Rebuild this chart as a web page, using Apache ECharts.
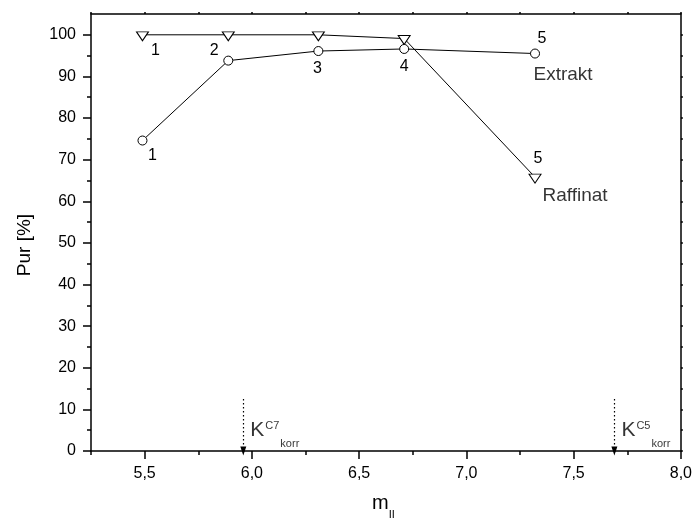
<!DOCTYPE html>
<html>
<head>
<meta charset="utf-8">
<script src="https://cdn.jsdelivr.net/npm/echarts@6/dist/echarts.min.js"></script>
<style>
  html, body { margin: 0; padding: 0; background: #fff; }
  #chart { width: 695px; height: 523px; }
</style>
</head>
<body>
<div id="chart"></div>
<script>
// Purity of raffinate and extract against flow ratio m_II
const mII = [5.49, 5.89, 6.31, 6.71, 7.32];
const raffinat = [100, 100, 100, 99.1, 65.8];
const extrakt = [74.6, 93.8, 96.1, 96.6, 95.5];
const raffinatNo = ['1', '2', '', '', '5'];
const extraktNo = ['1', '', '3', '4', '5'];

// Corrected K values marked with dotted arrows above the x axis
const kPos = [5.96, 7.69];
const kSup = ['C7', 'C5'];
const kArrowTop = 12.5;

// Axis ticks
const xMajor = [5.5, 6.0, 6.5, 7.0, 7.5, 8.0];
const xMinor = [5.25, 5.75, 6.25, 6.75, 7.25, 7.75];
const xAll = [5.25, 5.5, 5.75, 6.0, 6.25, 6.5, 6.75, 7.0, 7.25, 7.5, 7.75, 8.0];
const yMajor = [0, 10, 20, 30, 40, 50, 60, 70, 80, 90, 100];
const yMinor = [5, 15, 25, 35, 45, 55, 65, 75, 85, 95];
const yAll = [0, 5, 10, 15, 20, 25, 30, 35, 40, 45, 50, 55, 60, 65, 70, 75, 80, 85, 90, 95, 100];

const X_MIN = 5.25, X_MAX = 8.0, Y_MIN = 0, Y_MAX = 105;
const FONT = 'Liberation Sans, Arial, sans-serif';
const INK = '#000';

// label offsets (px) for the run numbers next to each point
const raffOffset = [[13, 14], [-14, 14], [0, 0], [0, 0], [3, -20]];
const extrOffset = [[10, 15], [0, 0], [-1, 18], [0, 18], [7, -15]];

function numLabel(text, off) {
  return {
    show: text !== '',
    position: 'inside',
    offset: off,
    align: 'center',
    verticalAlign: 'middle',
    formatter: text,
    color: INK,
    fontFamily: FONT,
    fontSize: 16
  };
}

const line = { color: INK, width: 1.5 };

function xAxisCfg(pos, showLine, ticks, len, labels) {
  return {
    type: 'value', position: pos, min: X_MIN, max: X_MAX,
    axisLine: { show: showLine, onZero: false, lineStyle: line },
    axisTick: { show: true, customValues: ticks, length: len, inside: false, lineStyle: { color: INK, width: 1.5 } },
    axisLabel: labels ? {
      show: true, customValues: labels, margin: 15, color: INK, fontFamily: FONT, fontSize: 16,
      formatter: v => v.toFixed(1).replace('.', ',')
    } : { show: false },
    splitLine: { show: false }
  };
}
function yAxisCfg(pos, showLine, ticks, len, labels) {
  return {
    type: 'value', position: pos, min: Y_MIN, max: Y_MAX,
    axisLine: { show: showLine, onZero: false, lineStyle: line },
    axisTick: { show: true, customValues: ticks, length: len, inside: false, lineStyle: { color: INK, width: 1.5 } },
    axisLabel: labels ? {
      show: true, customValues: labels, margin: 15, color: INK, fontFamily: FONT, fontSize: 16
    } : { show: false },
    splitLine: { show: false }
  };
}

const chart = echarts.init(document.getElementById('chart'), null, { renderer: 'canvas' });

const option = {
  backgroundColor: '#fff',
  animation: false,
  grid: { left: 91, right: 14, top: 14, bottom: 72, containLabel: false },
  xAxis: [
    xAxisCfg('bottom', true, xMajor, 8, xMajor),
    xAxisCfg('bottom', false, xMinor, 4, null),
    xAxisCfg('top', true, xAll, 2, null)
  ],
  yAxis: [
    yAxisCfg('left', true, yMajor, 8, yMajor),
    yAxisCfg('left', false, yMinor, 4, null),
    yAxisCfg('right', true, yAll, 2, null)
  ],
  graphic: [
    // y-axis title
    {
      type: 'text', x: 25, y: 245, rotation: Math.PI / 2,
      style: { text: 'Pur [%]', fill: INK, font: '19px ' + FONT, align: 'center', verticalAlign: 'middle' }
    },
    // x-axis title with subscript
    {
      type: 'text', x: 372, y: 507,
      style: {
        text: '{m|m}{s|II}',
        rich: {
          m: { fontFamily: FONT, fontSize: 20, fill: INK, verticalAlign: 'top', lineHeight: 21 },
          s: { fontFamily: FONT, fontSize: 11, fill: INK, verticalAlign: 'bottom', lineHeight: 27 }
        },
        align: 'left', verticalAlign: 'middle'
      }
    }
  ],
  series: [
    {
      name: 'Raffinat', type: 'line', xAxisIndex: 0, yAxisIndex: 0,
      data: mII.map((x, i) => ({ value: [x, raffinat[i]], label: numLabel(raffinatNo[i], raffOffset[i]) })),
      symbol: 'triangle', symbolSize: [12, 9], symbolRotate: 180, symbolOffset: [0, 1.5],
      showAllSymbol: true,
      lineStyle: { color: INK, width: 1 },
      itemStyle: { color: '#fff', borderColor: INK, borderWidth: 1 },
      z: 3
    },
    {
      name: 'Extrakt', type: 'line', xAxisIndex: 0, yAxisIndex: 0,
      data: mII.map((x, i) => ({ value: [x, extrakt[i]], label: numLabel(extraktNo[i], extrOffset[i]) })),
      symbol: 'circle', symbolSize: 9,
      showAllSymbol: true,
      lineStyle: { color: INK, width: 1 },
      itemStyle: { color: '#fff', borderColor: INK, borderWidth: 1 },
      z: 4
    },
    {
      // curve names next to the last points
      type: 'scatter', xAxisIndex: 0, yAxisIndex: 0, symbolSize: 0, silent: true,
      data: [
        { value: [mII[4], extrakt[4]], name: 'Extrakt', label: { offset: [28, 21] } },
        { value: [mII[4], raffinat[4]], name: 'Raffinat', label: { offset: [40, 19] } }
      ],
      label: {
        show: true, position: 'inside', align: 'center', verticalAlign: 'middle',
        formatter: p => p.name, color: INK, fontFamily: FONT, fontSize: 19
      },
      z: 5
    },
    {
      // dotted arrows marking corrected K values
      type: 'scatter', xAxisIndex: 0, yAxisIndex: 0, symbolSize: 0, silent: true,
      data: kPos.map((x, i) => ({ value: [x, 0], name: kSup[i] })),
      label: {
        show: true, position: 'inside', align: 'left', verticalAlign: 'bottom', offset: [7, -2],
        formatter: p => '{k|K}{sup|' + p.name + '}{sub|korr}',
        rich: {
          k: { fontFamily: FONT, fontSize: 21, color: INK, verticalAlign: 'top', lineHeight: 22 },
          sup: { fontFamily: FONT, fontSize: 11, color: INK, verticalAlign: 'top', lineHeight: 11, padding: [0, 0, 0, 1] },
          sub: { fontFamily: FONT, fontSize: 11, color: INK, verticalAlign: 'bottom', lineHeight: 29, padding: [0, 0, 0, 1] }
        }
      },
      markLine: {
        silent: true,
        symbol: ['none', 'triangle'],
        symbolSize: [6, 9],
        label: { show: false },
        lineStyle: { color: INK, type: [1.5, 2.5], width: 1.2 },
        data: kPos.map(x => [{ coord: [x, kArrowTop] }, { coord: [x, 0] }])
      },
      z: 6
    }
  ]
};

chart.setOption(option);
</script>
</body>
</html>
